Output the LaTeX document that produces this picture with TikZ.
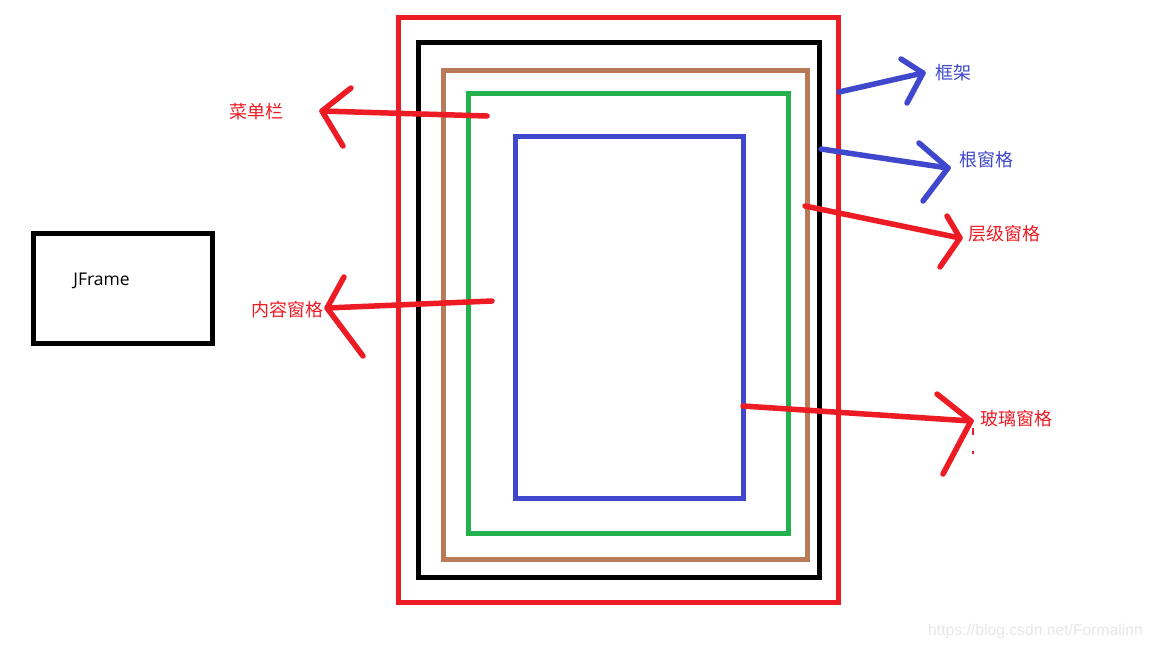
\documentclass[tikz,border=0pt]{standalone}
\usepackage{fontspec}
\setmainfont{Open Sans}
\newfontfamily\cjk{Noto Sans CJK SC}
\newfontfamily\wm{Liberation Sans}
\definecolor{pred}{HTML}{ED1C24}
\definecolor{pbrown}{HTML}{B97A57}
\definecolor{pgreen}{HTML}{22B14C}
\definecolor{pblue}{HTML}{3F48CC}
\tikzset{
  frame/.style={line width=5pt},
  arr/.style={line width=5.5pt, line cap=round, line join=round},
  lab/.style={inner sep=0pt, font=\cjk\fontsize{18}{20}\selectfont},
}
\begin{document}
\begin{tikzpicture}[x=1pt,y=-1pt]
\useasboundingbox (0,0) rectangle (1152,648);
\fill[white] (0,0) rectangle (1152,648);
% nested panes
\draw[frame,pred]   (398.5,17.5) rectangle (838.5,602.5);
\draw[frame,black]  (418.5,42.5) rectangle (819,577.5);
\draw[frame,pbrown] (443.5,70.5) rectangle (807.5,559);
\draw[frame,pgreen] (468.5,93)   rectangle (788.5,533.5);
\draw[frame,pblue]  (515.7,136.5) rectangle (743.5,498.5);
% JFrame box
\node[draw, line width=5pt, minimum width=179pt, minimum height=109.5pt, inner sep=0pt] (jf) at (123,288.25) {};
\node[inner sep=0pt, font=\fontsize{17.5}{20}\selectfont] (jft) at (101.5,280.5) {JFrame};
% labels
\node[lab, text=pred]  (menu)  at (256,112) {菜单栏};
\node[lab, text=pred]  (cont)  at (287,310) {内容窗格};
\node[lab, text=pblue] (frm)   at (953,73)  {框架};
\node[lab, text=pblue] (root)  at (986,160) {根窗格};
\node[lab, text=pred]  (layer) at (1004,234) {层级窗格};
\node[lab, text=pred]  (glass) at (1016,419) {玻璃窗格};
% arrow coordinates
\coordinate (m0) at (487,116); \coordinate (m1) at (322,111);
\coordinate (ma) at (351,88);  \coordinate (mb) at (343,146);
\coordinate (c0) at (492,301); \coordinate (c1) at (327,308);
\coordinate (ca) at (344,277); \coordinate (cb) at (363,356);
\coordinate (f0) at (839,92);  \coordinate (f1) at (923,73);
\coordinate (fa) at (901,59);  \coordinate (fb) at (907,103);
\coordinate (r0) at (821,149); \coordinate (r1) at (948,168);
\coordinate (ra) at (919,143); \coordinate (rb) at (923,201);
\coordinate (l0) at (805,206); \coordinate (l1) at (960,238);
\coordinate (la) at (947,216); \coordinate (lb) at (940,267);
\coordinate (g0) at (743,406); \coordinate (g1) at (971,421);
\coordinate (ga) at (937,394); \coordinate (gb) at (943,474);
% arrows
\draw[arr,pred]  (m0) -- (m1); \draw[arr,pred] (ma) -- (m1) -- (mb);
\draw[arr,pred]  (c0) -- (c1); \draw[arr,pred] (ca) -- (c1) -- (cb);
\draw[arr,pblue] (f0) -- (f1); \draw[arr,pblue] (fa) -- (f1) -- (fb);
\draw[arr,pblue] (r0) -- (r1); \draw[arr,pblue] (ra) -- (r1) -- (rb);
\draw[arr,pred]  (l0) -- (l1); \draw[arr,pred] (la) -- (l1) -- (lb);
\draw[arr,pred]  (g0) -- (g1); \draw[arr,pred] (ga) -- (g1) -- (gb);
% small stray marks
\coordinate (d0) at (973,428); \coordinate (d1) at (973,435);
\draw[pred, line width=1.5pt] (d0) -- (d1);
\coordinate (d2) at (973,451); \coordinate (d3) at (973,454);
\draw[pred, line width=1.5pt] (d2) -- (d3);
% watermark
\node[inner sep=0pt, anchor=west, text={rgb,255:red,232;green,232;blue,232}, font=\wm\fontsize{15.7}{18}\selectfont] (wmk) at (928,631) {https://blog.csdn.net/Formalinn};
\end{tikzpicture}
\end{document}
